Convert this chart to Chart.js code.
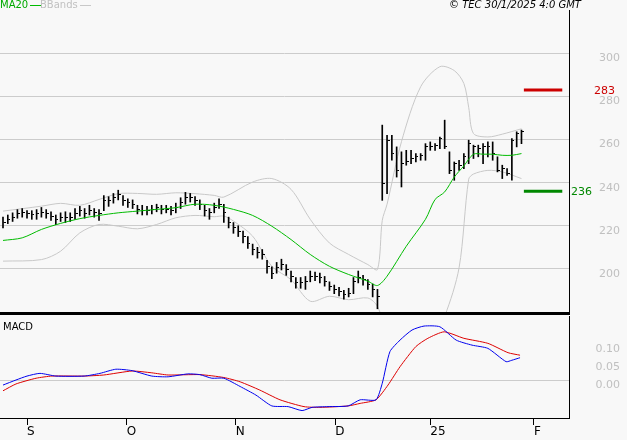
<!DOCTYPE html>
<html><head><meta charset="utf-8">
<script src="https://cdn.jsdelivr.net/npm/chart.js@4"></script>
<style>
html,body{margin:0;padding:0;background:#f8f8f8;width:627px;height:440px;overflow:hidden;font-family:"DejaVu Sans",sans-serif;}
.w{position:absolute;left:0;width:627px;}
.t{position:absolute;font-size:10px;white-space:nowrap;}
</style></head><body>
<div class="w" style="top:0;height:316px"><canvas id="c1"></canvas></div>
<div class="w" style="top:316px;height:124px"><canvas id="c2"></canvas></div>
<div class="t" style="left:0;top:-1px;color:#00aa00">MA20<span style="display:inline-block;width:11px;height:1px;background:#00bb00;vertical-align:middle;margin-left:2px"></span></div>
<div class="t" style="left:40px;top:-1px;color:#c0c0c0">BBands<span style="display:inline-block;width:11px;height:1px;background:#c8c8c8;vertical-align:middle;margin-left:2px"></span></div>
<div class="t" style="left:449px;top:-1px;font-style:italic;color:#000">© TEC 30/1/2025 4:0 GMT</div>
<div class="t" style="left:3px;top:321px;color:#000">MACD</div>
<div style="position:absolute;left:0;top:312px;width:570px;height:3px;background:#000"></div>
<script>
const closes=[221.4,223,224,225.5,226,225.5,225,225.5,226,225.5,224.5,223,224,224,224,225.5,227,225.5,227,226,225.5,231.5,231.5,233,234.5,231.5,230.7,230,227.6,227,227,227.6,228.4,227.6,227.6,227,228.4,230.7,233,233,231.5,230,227,226,228.4,230,226,221.4,219,217.5,215,212,209,207.4,206.7,201.3,198,200.5,202,199.7,196.6,193.5,193.5,194.3,196.6,196.6,195.8,194.3,192,190.4,189.6,188,188.8,194.3,195.8,195,192.7,190.4,187.3,239.5,259.7,253.5,245.7,248.8,249.6,251,252,252.7,256.6,256.6,257.4,260.5,256.6,245.7,248.8,248,252,258,256.6,255.8,256.6,256.6,253.5,245.7,246.5,244.2,259.7,262.8,263.6];
const highs=[224,225,226,227.5,228,227,227,227.5,228.5,227.5,226.5,225,226,226.5,226,228,229,228,229.5,228,227.5,234,233.5,235,236.5,234,232.5,232,229.5,229.5,229,229.5,230,229.5,229.5,229,230.5,233,235.5,235,233.5,232,229.5,228,230.5,232.5,230,224,221.5,220,217.5,215,211.5,210,209,204,201,203,204.5,202,199,196,196,196.5,199,198.5,198,196.5,194,192.5,191.5,190,191,196,199,197,195,193,190.5,266.7,262,262,256.6,254.3,255,255,253.5,253.5,258.1,258.9,258.1,261.2,269,254.3,249.6,250.4,253.5,259.7,257.4,257.4,258.1,258.9,258.9,252,248.1,246.5,260.5,263.6,264.4];
const lows=[219,221,222,223.5,224,223.5,223,223,224,223.5,222.5,220.5,222,221.5,222,223,224.5,223.5,225,224,222.5,227,229,230.5,232,229.5,228.5,228,225.5,225,225,225.5,226.5,225.5,226,225,226,228,230,231,229.5,227.5,224.5,223,226,228,221.5,219,216.5,215,212,209.5,206.5,205,204.5,198,195.5,198,199.5,197,194,191,191,190.5,194,194.5,193.5,192,190,188.5,187.5,186,187,188.5,193.5,192.5,190.5,187,181.5,231.8,234.9,250.4,242.6,238,248.1,248.8,249.6,250.4,250.4,255,255,255.8,255.8,244.2,241.1,245.7,246.5,248.8,251.2,252,248.8,252,250.4,245,241.9,243.4,241.1,256.6,258.1];
const maX=[0,4,8,12,16,20,24,28,32,36,40,44,48,52,56,60,64,68,72,76,78,80,84,88,90,92,94,96,98,100,102,104,106,108];
const maY=[213.2,214.4,218.3,221.1,223.3,224.8,226,226.8,227.6,228.4,230,229.5,227.6,224.8,219.8,213.6,206.7,201.2,197.4,194.3,192.3,196.6,210.5,223,232.2,235.7,242.6,247.8,253.2,253.2,253.2,252.7,252.7,253.5];
const upX=[0,8,12,16,20,24,28,32,36,40,44,46,52,56,60,64,68,72,76,78,79,80,83,87,91,94,96,97,98,101,104,108];
const upY=[226.8,229.1,230.4,229.5,232.2,234.9,235,234.6,235.3,234.9,234.1,233.3,240.3,241.9,236.9,223,212,206.7,202,199.7,222.5,230,259,284.5,293.8,292,286,275,262.8,261.2,262.5,265];
const loX=[0,8,12,16,20,24,28,32,36,40,44,46,48,52,56,60,64,68,72,76,78,80,84,88,92,95,97,98,101,104,108];
const loY=[203.6,204.3,208.2,216.7,220.6,219.8,218.6,220.6,223.7,224.8,224.2,224.5,222.2,215.2,201.2,195,185,187.3,185.7,186.5,182.6,170,150,160,178,200.5,241.6,244,245.7,245,241.9];
const macdX=[0,2.7,5,7.7,11,16.9,20.2,23.5,26.9,31,34.4,38.5,41,43.5,46,49.4,52.7,56,59.4,62.3,64.4,67.7,71.9,74.4,77.7,79,80.6,82.7,85.2,87.7,91,94.4,97.7,101,104.8,106,107.7];
const macdY=[-0.014,0,0.011,0.0185,0.011,0.011,0.0185,0.03,0.026,0.011,0.009,0.017,0.015,0.005,0.005,-0.018,-0.042,-0.072,-0.074,-0.085,-0.076,-0.074,-0.072,-0.055,-0.055,-0.009,0.079,0.111,0.139,0.15,0.148,0.111,0.097,0.088,0.051,0.055,0.062];
const sigX=[0,2.7,6.9,10.2,16.9,21,26.9,31,34.4,41,46,49.4,53.5,57.7,62.7,66,71.9,74.4,77.7,80.2,82.7,86,88.5,91.9,96,101,105.2,107.7];
const sigY=[-0.03,-0.011,0.005,0.011,0.011,0.014,0.025,0.02,0.014,0.015,0.007,-0.005,-0.028,-0.055,-0.074,-0.076,-0.072,-0.065,-0.055,-0.014,0.037,0.093,0.116,0.134,0.116,0.102,0.076,0.069];
const levels=[283,236];
const levelColors=['#cc0000','#008800'];
const priceTicks=[200,220,240,260,280,300];
const macdTicks=[0,0.05,0.1];
const tickPos=[5,25.8,48.5,69.2,89,110.6];
const tickLabels=['S','O','N','D','25','F'];

const XMIN=-0.625,XMAX=117.9;
const font={family:'DejaVu Sans',size:11};
const pts=(xs,ys)=>xs.map((x,i)=>({x,y:ys[i]}));
const tickImg=document.createElement('canvas');tickImg.width=5;tickImg.height=1;
const tc=tickImg.getContext('2d');tc.fillStyle='#000';tc.fillRect(3,0,2,1);

const levelLabels={id:'lv',afterDatasetsDraw(ch){const y=ch.scales.y,ctx=ch.ctx;ctx.save();ctx.font='11px DejaVu Sans';ctx.textBaseline='middle';
 levels.forEach((v,i)=>{ctx.fillStyle=levelColors[i];ctx.fillText(String(v),i===0?594:571,y.getPixelForValue(v)+1);});ctx.restore();}};

const base={responsive:true,maintainAspectRatio:false,animation:false,events:[],
  plugins:{legend:{display:false},tooltip:{enabled:false}}};
const fitY=s=>{s.width=51;s.paddingTop=0;s.paddingBottom=0;};

new Chart(document.getElementById('c1'),{
 data:{datasets:[
  {type:'line',data:pts(maX,maY),borderColor:'#00bb00',borderWidth:1,pointRadius:0,tension:0.3},
  {type:'line',data:[{x:108.5,y:levels[0]},{x:116.5,y:levels[0]}],borderColor:levelColors[0],borderWidth:3,pointRadius:0},
  {type:'line',data:[{x:108.5,y:levels[1]},{x:116.5,y:levels[1]}],borderColor:levelColors[1],borderWidth:3,pointRadius:0},
  {type:'scatter',data:closes.map((c,i)=>({x:i,y:c})),pointStyle:tickImg,pointRadius:2},
  {type:'bar',data:lows.map((l,i)=>({x:i,y:[l,highs[i]]})),backgroundColor:'#000',barThickness:1},
  {type:'line',data:pts(upX,upY),borderColor:'#c8c8c8',borderWidth:1,pointRadius:0,tension:0.3},
  {type:'line',data:pts(loX,loY),borderColor:'#c8c8c8',borderWidth:1,pointRadius:0,tension:0.3}
 ]},
 options:{...base,layout:{autoPadding:false,padding:{top:10,bottom:4,left:0,right:7}},
  scales:{
   x:{type:'linear',min:XMIN,max:XMAX,offset:false,display:false},
   y:{position:'right',min:180,max:320.1,afterBuildTicks:s=>{s.ticks=priceTicks.map(v=>({value:v}));},
      afterFit:fitY,
      grid:{color:'#cccccc',drawTicks:false},border:{color:'#000',width:1},
      ticks:{color:'#c0c0c0',font,padding:0,crossAlign:'far',labelOffset:5}}
  }},
 plugins:[levelLabels]
});

new Chart(document.getElementById('c2'),{
 data:{datasets:[
  {type:'line',data:pts(macdX,macdY),borderColor:'#0000ee',borderWidth:1,pointRadius:0,tension:0.2},
  {type:'line',data:pts(sigX,sigY),borderColor:'#dd0000',borderWidth:1,pointRadius:0,tension:0.2}
 ]},
 options:{...base,layout:{autoPadding:false,padding:{top:0,bottom:0,left:0,right:7}},
  scales:{
   x:{type:'linear',min:XMIN,max:XMAX,offset:false,afterBuildTicks:s=>{s.ticks=tickPos.map(v=>({value:v}));},
      afterFit:s=>{s.height=22;s.paddingLeft=0;s.paddingRight=0;},
      grid:{drawOnChartArea:false,color:'#000',tickLength:7},border:{color:'#000',width:1},
      ticks:{autoSkip:false,maxRotation:0,align:'start',color:'#000',font:{family:'DejaVu Sans',size:12},padding:0,
        callback:(v,i)=>tickLabels[i]}},
   y:{position:'right',min:-0.1056,max:0.178,afterBuildTicks:s=>{s.ticks=macdTicks.map(v=>({value:v}));},
      afterFit:fitY,
      grid:{color:c=>c.tick&&c.tick.value===0?'#cccccc':'rgba(0,0,0,0)',drawTicks:false},border:{color:'#000',width:1},
      ticks:{color:'#c0c0c0',font,padding:0,crossAlign:'far',labelOffset:5,callback:v=>v.toFixed(2)}}
  }}
});
</script></body></html>
